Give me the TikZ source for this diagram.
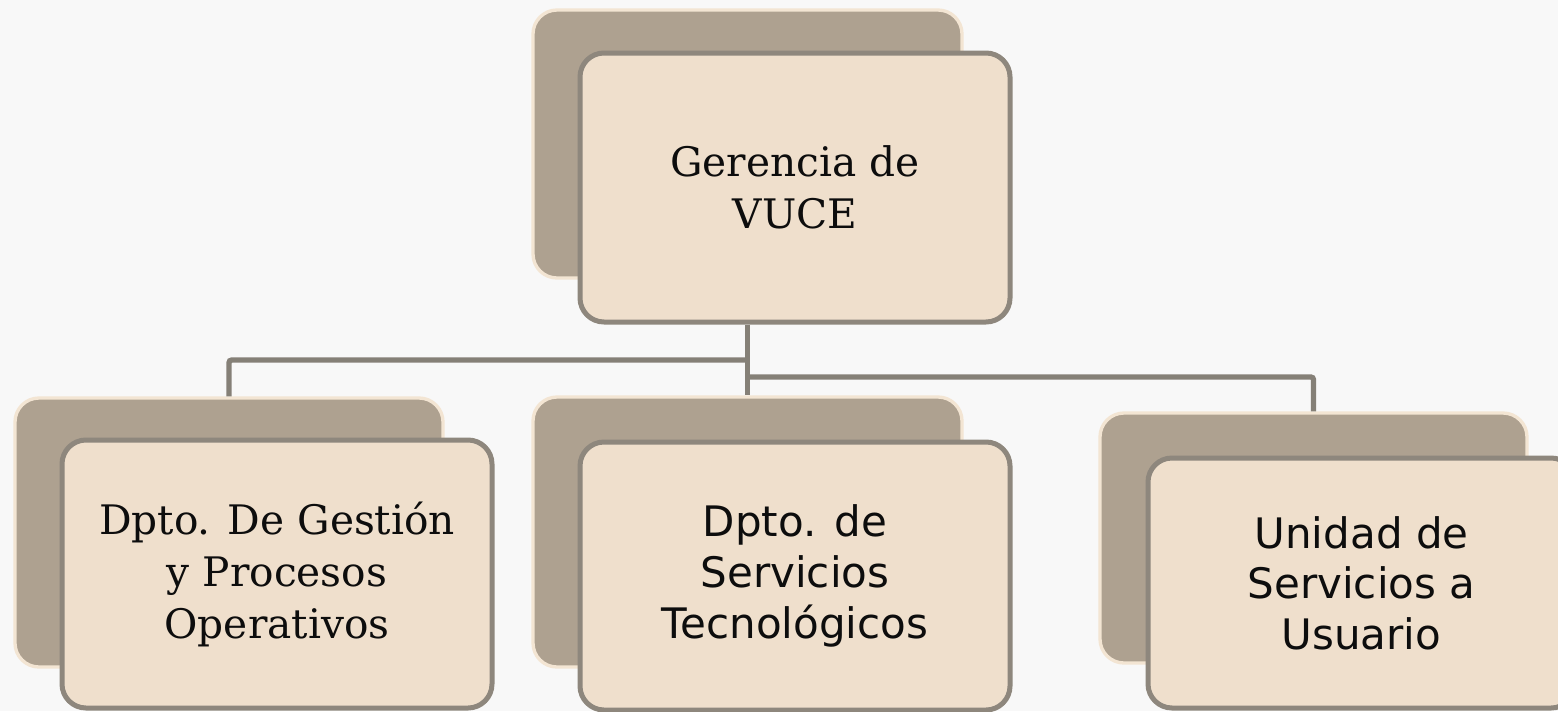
\documentclass[tikz,border=0pt]{standalone}
\usepackage{fontspec}
\newfontfamily\serifA{DejaVu Serif}
\newfontfamily\sansA{DejaVu Sans}
\newdimen\pxu \pxu=0.75pt
\definecolor{bgc}{HTML}{F8F8F8}
\definecolor{backfill}{HTML}{AEA190}
\definecolor{backedge}{HTML}{F3E5D3}
\definecolor{frontfill}{HTML}{EFDFCC}
\definecolor{frontedge}{HTML}{8E877D}
\definecolor{linkc}{HTML}{858077}
\begin{document}
\begin{tikzpicture}[x=0.75pt,y=-0.75pt,
  bk/.style={draw=backedge, line width=2.5pt, fill=backfill, rounded corners=18pt, inner sep=0pt},
  fr/.style={draw=frontedge, line width=3.75pt, fill=frontfill, rounded corners=18pt, inner sep=0pt, align=center, text=black!95},
  sertext/.style={font=\serifA\fontsize{30.5pt}{39pt}\selectfont},
  santext/.style={font=\sansA\fontsize{31.5pt}{38pt}\selectfont},
  link/.style={draw=linkc, line width=4pt, rounded corners=2pt}]
\fill[bgc] (0,0) rectangle (1558,711);
\useasboundingbox (0,0) rectangle (1558,711);
% top
\node[bk, minimum width=429\pxu, minimum height=268\pxu] (topback) at (747.5,144) {};
\node[fr, sertext, minimum width=430\pxu, minimum height=269\pxu] (topfront) at (795,187.5) {Gerencia de\\VUCE};
% left
\node[bk, minimum width=428\pxu, minimum height=269\pxu] (leftback) at (229,532.5) {};
\node[fr, sertext, minimum width=430\pxu, minimum height=268\pxu] (leftfront) at (277,574) {Dpto. De Gestión\\y Procesos\\Operativos};
% middle
\node[bk, minimum width=429\pxu, minimum height=270\pxu] (midback) at (747.5,532) {};
\node[fr, santext, minimum width=430\pxu, minimum height=268\pxu] (midfront) at (795,576) {Dpto. de\\Servicios\\Tecnológicos};
% right
\node[bk, minimum width=427\pxu, minimum height=250\pxu] (rightback) at (1313.5,538) {};
\node[fr, santext, minimum width=427\pxu, minimum height=250\pxu] (rightfront) at (1361.5,583) {Unidad de\\Servicios a\\Usuario};
% connectors
\coordinate (hl) at (0,360);
\coordinate (hr) at (0,377);
\draw[link] (topback.south |- topfront.south) -- (midback.north);
\draw[link] (topback.south |- hl) -| (leftback.north);
\draw[link] (topback.south |- hr) -| (rightback.north);
\end{tikzpicture}
\end{document}
